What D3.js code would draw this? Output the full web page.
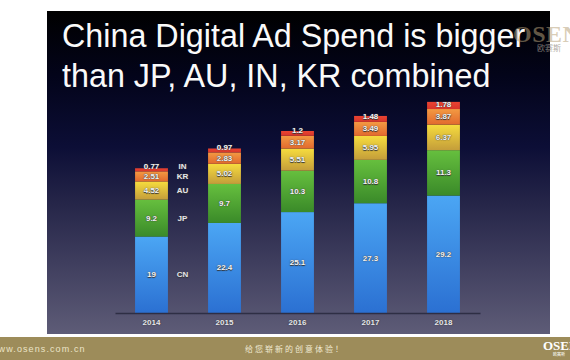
<!DOCTYPE html>
<html><head><meta charset="utf-8">
<script src="https://cdn.jsdelivr.net/npm/d3@7/dist/d3.min.js"></script>
<style>
html,body{margin:0;padding:0;background:#fff;}
svg{display:block;}
.seg{font-family:"Liberation Sans",Arial,sans-serif;font-size:8px;font-weight:bold;fill:#f4f4f4;text-shadow:0 0 1.2px #444,0 0.5px 0.8px #333;}
</style></head>
<body>
<script>
const years = ["2014","2015","2016","2017","2018"];
const seriesNames = ["CN","JP","AU","KR","IN"];
const CN = [19, 22.4, 25.1, 27.3, 29.2];
const JP = [9.2, 9.7, 10.3, 10.8, 11.3];
const AU = [4.52, 5.02, 5.51, 5.95, 6.37];
const KR = [2.51, 2.83, 3.17, 3.49, 3.87];
const IN = [0.77, 0.97, 1.2, 1.48, 1.78];
const titleLines = ["China Digital Ad Spend is bigger", "than JP, AU, IN, KR combined"];

const W = 570, H = 360;
const svg = d3.select("body").append("svg").attr("width", W).attr("height", H);
const defs = svg.append("defs");

const bg = defs.append("linearGradient").attr("id","bg").attr("x1",0).attr("y1",0).attr("x2",0).attr("y2",1);
[[0,"#000000"],[0.2,"#03041a"],[0.42,"#0c0e36"],[0.6,"#262649"],[0.78,"#3f3e5e"],[1,"#5e5c77"]]
  .forEach(([o,c]) => bg.append("stop").attr("offset",o).attr("stop-color",c));

svg.append("rect").attr("x",47).attr("y",11).attr("width",503).attr("height",323).attr("fill","url(#bg)");

const grads = {
  CN: ["#4ba6f4", "#2b70d2"],
  JP: ["#66bf3e", "#3a8a29"],
  AU: ["#f6dc3e", "#c49d3a"],
  KR: ["#f39a42", "#e2692e"],
  IN: ["#ea4432", "#d8352a"]
};
seriesNames.forEach(s => {
  const g = defs.append("linearGradient").attr("id","g"+s).attr("x1",0).attr("y1",0).attr("x2",0).attr("y2",1);
  g.append("stop").attr("offset",0).attr("stop-color",grads[s][0]);
  g.append("stop").attr("offset",1).attr("stop-color",grads[s][1]);
});

const seriesData = {CN, JP, AU, KR, IN};
const table = years.map((y,i) => {
  const o = {year:y};
  seriesNames.forEach(s => o[s] = seriesData[s][i]);
  return o;
});
const stack = d3.stack().keys(seriesNames)(table);

const x = d3.scaleBand().domain(years).range([115,480]).paddingInner(0.55).paddingOuter(0.275);
const y = d3.scaleLinear().domain([0,60]).range([313, 313 - 60*4.02]);

const layers = svg.append("g").selectAll("g").data(stack).join("g").attr("fill", d => "url(#g"+d.key+")");
layers.selectAll("rect").data(d => d).join("rect")
  .attr("x", d => x(d.data.year))
  .attr("y", d => y(d[1]))
  .attr("width", x.bandwidth())
  .attr("height", d => y(d[0]) - y(d[1]));

function labelY(layer, d){
  const top = y(d[1]), bot = y(d[0]);
  return layer.key === "IN" ? bot - 5 : (top + bot)/2;
}
stack.forEach(layer => {
  svg.append("g").selectAll("text").data(layer).join("text")
    .attr("class","seg")
    .attr("x", d => x(d.data.year) + x.bandwidth()/2)
    .attr("y", d => labelY(layer, d))
    .attr("text-anchor","middle")
    .attr("dominant-baseline","central")
    .text(d => d.data[layer.key]);
  const d0 = layer[0];
  svg.append("text").attr("class","seg")
    .attr("x", x(years[0]) + x.bandwidth() + 14.5)
    .attr("y", labelY(layer, d0))
    .attr("text-anchor","middle")
    .attr("dominant-baseline","central")
    .style("fill","#e4e4ea")
    .text(layer.key);
});

const ax = svg.append("g").attr("transform","translate(0,313)")
  .call(d3.axisBottom(x).tickSize(0).tickPadding(6));
ax.select(".domain").attr("stroke","#2e2e44").attr("stroke-width",1.5);
ax.selectAll("text").attr("class","seg").style("fill","#e6e6ee").attr("font-family",null);

const title = svg.append("text").attr("font-family","'Liberation Sans',Arial,sans-serif").attr("font-size",32.3).attr("fill","#fafafa");
titleLines.forEach((t,i) => title.append("tspan").attr("x",62).attr("y",47 + i*40).text(t));

svg.append("text").attr("x",513).attr("y",42).attr("font-family","'Liberation Serif','DejaVu Serif',serif")
  .attr("font-weight","bold").attr("font-size",24).attr("letter-spacing",0.5)
  .attr("fill","#b8a27a").attr("fill-opacity",0.55).text("OSEN");
svg.append("text").attr("x",537).attr("y",51).attr("font-family","'Noto Sans CJK SC',sans-serif")
  .attr("font-size",8).attr("fill","#9a948a").attr("fill-opacity",0.8).text("欧赛斯");

svg.append("rect").attr("x",0).attr("y",337).attr("width",W).attr("height",23).attr("fill","#9d8c5a");
svg.append("text").attr("x",-9).attr("y",352).attr("font-family","'Liberation Sans',Arial,sans-serif")
  .attr("font-size",9).attr("letter-spacing",1.1).attr("fill","#ece4c8").text("www.osens.com.cn");
svg.append("text").attr("x",295).attr("y",352).attr("text-anchor","middle").attr("font-family","'Noto Sans CJK SC',sans-serif")
  .attr("font-size",8).attr("letter-spacing",2).attr("fill","#f0e9d2").text("给您崭新的创意体验！");
svg.append("text").attr("x",543).attr("y",350).attr("font-family","'Liberation Serif','DejaVu Serif',serif")
  .attr("font-weight","bold").attr("font-size",13).attr("fill","#ffffff").text("OSEN");
svg.append("text").attr("x",553).attr("y",356).attr("font-family","'Noto Sans CJK SC',sans-serif")
  .attr("font-size",4).attr("fill","#ffffff").text("欧赛斯");
</script>
</body></html>
